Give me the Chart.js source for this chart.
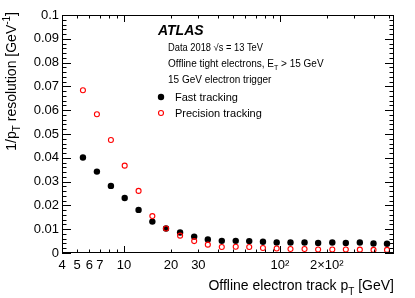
<!DOCTYPE html>
<html><head><meta charset="utf-8">
<script src="https://cdn.jsdelivr.net/npm/chart.js@4/dist/chart.umd.min.js"></script>
<style>html,body{margin:0;padding:0;background:#fff;}canvas{display:block;}</style>
</head><body>
<canvas id="c" width="415" height="298"></canvas>
<script>
// ---- data ----
const ptBins = [5.45, 6.70, 8.24, 10.1, 12.4, 15.2, 18.6, 22.9, 28.2, 34.5, 42.4, 52.1, 63.6, 77.9, 95.4, 117, 144, 176, 217, 265, 326, 399, 487];
const fastRes = [0.0401, 0.0342, 0.0282, 0.0231, 0.0181, 0.0132, 0.0103, 0.0086, 0.0069, 0.0057, 0.0051, 0.0051, 0.0050, 0.0047, 0.0044, 0.0044, 0.0044, 0.0042, 0.0044, 0.0042, 0.0044, 0.0040, 0.0039];
const precisionRes = [0.0684, 0.0583, 0.0475, 0.0367, 0.0261, 0.0155, 0.0103, 0.0073, 0.0050, 0.0035, 0.0025, 0.0026, 0.0025, 0.0021, 0.0019, 0.0017, 0.0017, 0.0015, 0.0015, 0.0015, 0.0014, 0.0013, 0.0013];
const seriesNames = ['Fast tracking', 'Precision tracking'];
const xTickValues = [4, 5, 6, 7, 10, 20, 30, 100, 200];
const xTickLabels = ['4', '5', '6', '7', '10', '20', '30', '10\u00b2', '2\u00d710\u00b2'];
const xAllTicks = [4, 5, 6, 7, 8, 9, 10, 20, 30, 40, 50, 60, 70, 80, 90, 100, 200, 300, 400, 500];
const xLongTicks = [10, 100];
const yTickValues = [0, 0.01, 0.02, 0.03, 0.04, 0.05, 0.06, 0.07, 0.08, 0.09, 0.1];
const yTickLabels = ['0', '0.01', '0.02', '0.03', '0.04', '0.05', '0.06', '0.07', '0.08', '0.09', '0.1'];
const xTitle = [['Offline electron track p', 0], ['T', 1], [' [GeV]', 0]];
const yTitle = [['1/p', 0], ['T', 1], [' resolution [GeV', 0], ['-1', -1], [']', 0]];
const infoLines = [
  [['Data 2018 \u221as = 13 TeV', 0]],
  [['Offline tight electrons, E', 0], ['T', 1], [' > 15 GeV', 0]],
  [['15 GeV electron trigger', 0]]
];
const infoMaxWidth = [95, null, null];

const FONT = "'Liberation Sans', Arial, Helvetica, sans-serif";
Chart.defaults.font.family = FONT;
Chart.defaults.color = '#000';

// minor y ticks: 5 subdivisions between labelled ticks
const yAllTicks = [];
for (let i = 0; i < yTickValues.length - 1; i++) {
  const a = yTickValues[i], b = yTickValues[i + 1];
  for (let k = 0; k < 5; k++) yAllTicks.push(+(a + (b - a) * k / 5).toFixed(6));
}
yAllTicks.push(yTickValues[yTickValues.length - 1]);

function richWidth(ctx, parts, size) {
  let w = 0;
  parts.forEach(([t, s]) => {
    ctx.font = (s ? Math.round(size * 0.72) : size) + 'px ' + FONT;
    w += ctx.measureText(t).width;
  });
  return w;
}
function drawRich(ctx, parts, x, y, size, align, maxW) {
  const w = richWidth(ctx, parts, size);
  const k = maxW && w > maxW ? maxW / w : 1;
  let cx = align === 'right' ? x - w * k : x;
  ctx.textAlign = 'left';
  ctx.textBaseline = 'alphabetic';
  parts.forEach(([t, s]) => {
    const fs = s ? Math.round(size * 0.72) : size;
    ctx.font = fs + 'px ' + FONT;
    const dy = s === 1 ? size * 0.33 : (s === -1 ? -size * 0.4 : 0);
    const tw = ctx.measureText(t).width * k;
    ctx.fillText(t, cx, y + dy, tw);
    cx += tw;
  });
}

const decor = {
  id: 'decor',
  afterDraw(chart) {
    const { ctx, chartArea: a, scales: { x, y } } = chart;
    ctx.save();
    ctx.strokeStyle = '#000';
    ctx.lineWidth = 1;
    ctx.beginPath();
    x.ticks.forEach(t => {
      const px = Math.round(x.getPixelForValue(t.value)) + 0.5;
      const len = xLongTicks.includes(t.value) ? 7 : 3.5;
      ctx.moveTo(px, a.bottom); ctx.lineTo(px, a.bottom - len);
      ctx.moveTo(px, a.top); ctx.lineTo(px, a.top + len);
    });
    y.ticks.forEach(t => {
      const py = Math.round(y.getPixelForValue(t.value)) + 0.5;
      const major = yTickValues.some(v => Math.abs(v - t.value) < 1e-9);
      const len = major ? 9 : 4.5;
      ctx.moveTo(a.left, py); ctx.lineTo(a.left + len, py);
      ctx.moveTo(a.right, py); ctx.lineTo(a.right - len, py);
    });
    ctx.stroke();
    ctx.strokeRect(Math.round(a.left) + 0.5, Math.round(a.top) + 0.5,
                   Math.round(a.right - a.left) - 1, Math.round(a.bottom - a.top) - 1);

    ctx.fillStyle = '#000';
    // axis titles
    drawRich(ctx, xTitle, a.right, 290, 14, 'right');
    ctx.save();
    ctx.translate(15.5, 12);
    ctx.rotate(-Math.PI / 2);
    drawRich(ctx, yTitle, 0, 0, 14, 'right');
    ctx.restore();

    // ATLAS label and info
    ctx.font = 'italic bold 14px ' + FONT;
    ctx.textAlign = 'left';
    ctx.fillText('ATLAS', 158, 35);
    infoLines.forEach((parts, i) => drawRich(ctx, parts, 168, 51 + 16 * i, 10, 'left', infoMaxWidth[i]));

    // legend
    const ds = chart.data.datasets;
    const legendY = [97, 113];
    [0, 1].forEach(i => {
      const d = ds.find(dd => dd.label === seriesNames[i]);
      ctx.beginPath();
      ctx.arc(161, legendY[i], d.pointRadius, 0, Math.PI * 2);
      if (d.pointBackgroundColor !== 'rgba(0,0,0,0)') { ctx.fillStyle = d.pointBackgroundColor; ctx.fill(); }
      if (d.pointBorderWidth > 0) { ctx.strokeStyle = d.pointBorderColor; ctx.lineWidth = d.pointBorderWidth; ctx.stroke(); }
      ctx.fillStyle = '#000';
      ctx.font = '11px ' + FONT;
      ctx.fillText(seriesNames[i], 175, legendY[i] + 4);
    });
    ctx.restore();
  }
};

new Chart(document.getElementById('c'), {
  type: 'scatter',
  data: {
    datasets: [
      {
        label: seriesNames[1],
        data: ptBins.map((p, i) => ({ x: p, y: precisionRes[i] })),
        pointRadius: 2.5, pointBorderWidth: 1.1,
        pointBorderColor: 'rgb(255,0,0)', pointBackgroundColor: 'rgba(0,0,0,0)',
        pointHoverRadius: 2.5, showLine: false, order: 0
      },
      {
        label: seriesNames[0],
        data: ptBins.map((p, i) => ({ x: p, y: fastRes[i] })),
        pointRadius: 3.2, pointBorderWidth: 0,
        pointBorderColor: '#000', pointBackgroundColor: '#000',
        pointHoverRadius: 3.2, showLine: false, order: 1
      }
    ]
  },
  options: {
    responsive: false,
    animation: false,
    devicePixelRatio: 1,
    layout: { padding: { left: 0, right: 21, top: 15, bottom: 0 } },
    plugins: { legend: { display: false }, tooltip: { enabled: false } },
    scales: {
      x: {
        type: 'logarithmic', position: 'bottom', min: 4, max: 540,
        grid: { display: false, drawTicks: false },
        border: { display: false },
        afterBuildTicks: s => { s.ticks = xAllTicks.map(v => ({ value: v })); },
        afterFit: s => { s.height = 45; },
        ticks: {
          autoSkip: false, maxRotation: 0, minRotation: 0, padding: 5,
          font: { size: 13 }, color: '#000',
          callback: v => { const i = xTickValues.indexOf(v); return i >= 0 ? xTickLabels[i] : ''; }
        }
      },
      y: {
        type: 'linear', min: 0, max: 0.1,
        grid: { display: false, drawTicks: false },
        border: { display: false },
        afterBuildTicks: s => { s.ticks = yAllTicks.map(v => ({ value: v })); },
        afterFit: s => { s.width = 62; },
        ticks: {
          autoSkip: false, padding: 3,
          font: { size: 13 }, color: '#000',
          callback: v => { const i = yTickValues.findIndex(t => Math.abs(t - v) < 1e-9); return i >= 0 ? yTickLabels[i] : ''; }
        }
      }
    }
  },
  plugins: [decor]
});
</script>
</body></html>
